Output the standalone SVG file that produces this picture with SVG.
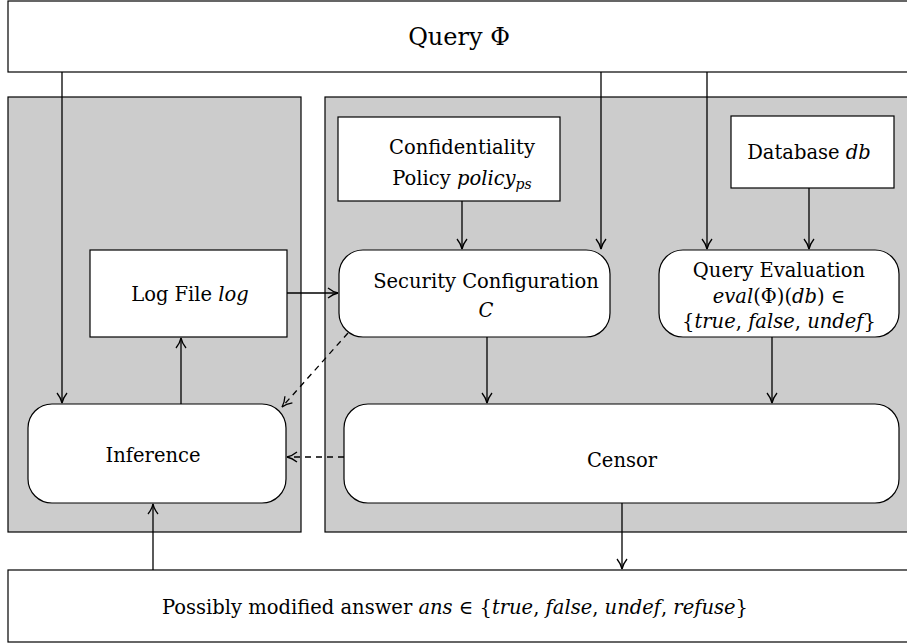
<svg xmlns="http://www.w3.org/2000/svg" width="907" height="643" viewBox="0 0 907 643">
<defs>
<style>
.box{fill:#fff;stroke:#000;stroke-width:1.2}
.panel{fill:#cccccc;stroke:#000;stroke-width:1.2}
text{font-family:'DejaVu Serif','Liberation Serif',serif;font-size:19.5px;fill:#000;text-anchor:middle}
.i{font-style:italic}
.c{fill:none;stroke:#000;stroke-width:1.3}
.d{stroke-dasharray:6,5}
</style>
<marker id="ah" viewBox="0 0 12 12" refX="11" refY="6" markerWidth="12" markerHeight="12" markerUnits="userSpaceOnUse" orient="auto">
<path d="M1,1 Q6,5 11,6 Q6,7 1,11" fill="none" stroke="#000" stroke-width="1.3"/>
</marker>
</defs>
<rect width="907" height="643" fill="#fff"/>
<g id="panel-left"><rect class="panel" x="8" y="97" width="293" height="435"/></g>
<g id="panel-right"><rect class="panel" x="325" y="97" width="590" height="435"/></g>
<g id="query"><rect class="box" x="8" y="1" width="910" height="71"/>
<text x="459" y="45" style="font-size:24px">Query Φ</text></g>
<g id="policy"><rect class="box" x="338" y="117" width="222" height="84"/>
<text x="462" y="154">Confidentiality</text>
<text x="462" y="185">Policy <tspan class="i">policy</tspan><tspan class="i" style="font-size:14px" dy="4">ps</tspan></text></g>
<g id="database"><rect class="box" x="731" y="116" width="163" height="72"/>
<text x="809" y="159">Database <tspan class="i">db</tspan></text></g>
<g id="logfile"><rect class="box" x="90" y="250" width="197" height="87"/>
<text x="190" y="301">Log File <tspan class="i">log</tspan></text></g>
<g id="security"><rect class="box" x="339" y="250" width="271" height="87" rx="24"/>
<text x="486" y="288">Security Configuration</text>
<text class="i" x="486" y="317">C</text></g>
<g id="evaluation"><rect class="box" x="659" y="250" width="240" height="87" rx="24"/>
<text x="779" y="277">Query Evaluation</text>
<text x="779" y="303"><tspan class="i">eval</tspan>(Φ)(<tspan class="i">db</tspan>)  ∈</text>
<text x="779" y="328">{<tspan class="i">true</tspan>, <tspan class="i">false</tspan>, <tspan class="i">undef</tspan>}</text></g>
<g id="inference"><rect class="box" x="28" y="404" width="258" height="99" rx="24"/>
<text x="153" y="462">Inference</text></g>
<g id="censor"><rect class="box" x="344" y="404" width="555" height="99" rx="24"/>
<text x="622" y="467">Censor</text></g>
<g id="answer"><rect class="box" x="8" y="570" width="910" height="72"/>
<text x="455" y="614">Possibly modified answer <tspan class="i">ans</tspan>  ∈ {<tspan class="i">true</tspan>, <tspan class="i">false</tspan>, <tspan class="i">undef</tspan>, <tspan class="i">refuse</tspan>}</text></g>
<g id="connectors">
<line class="c" x1="62" y1="72" x2="62" y2="403" marker-end="url(#ah)"/>
<line class="c" x1="601" y1="72" x2="601" y2="249" marker-end="url(#ah)"/>
<line class="c" x1="707" y1="72" x2="707" y2="249" marker-end="url(#ah)"/>
<line class="c" x1="462" y1="201" x2="462" y2="249" marker-end="url(#ah)"/>
<line class="c" x1="809" y1="188" x2="809" y2="249" marker-end="url(#ah)"/>
<line class="c" x1="287" y1="293" x2="338" y2="293" marker-end="url(#ah)"/>
<line class="c" x1="181" y1="404" x2="181" y2="338" marker-end="url(#ah)"/>
<line class="c" x1="487" y1="337" x2="487" y2="403" marker-end="url(#ah)"/>
<line class="c" x1="772" y1="337" x2="772" y2="403" marker-end="url(#ah)"/>
<line class="c d" x1="348" y1="333" x2="282" y2="407" marker-end="url(#ah)"/>
<line class="c d" x1="344" y1="457" x2="287" y2="457" marker-end="url(#ah)"/>
<line class="c" x1="622" y1="503" x2="622" y2="569" marker-end="url(#ah)"/>
<line class="c" x1="153" y1="570" x2="153" y2="504" marker-end="url(#ah)"/>
</g>
</svg>
